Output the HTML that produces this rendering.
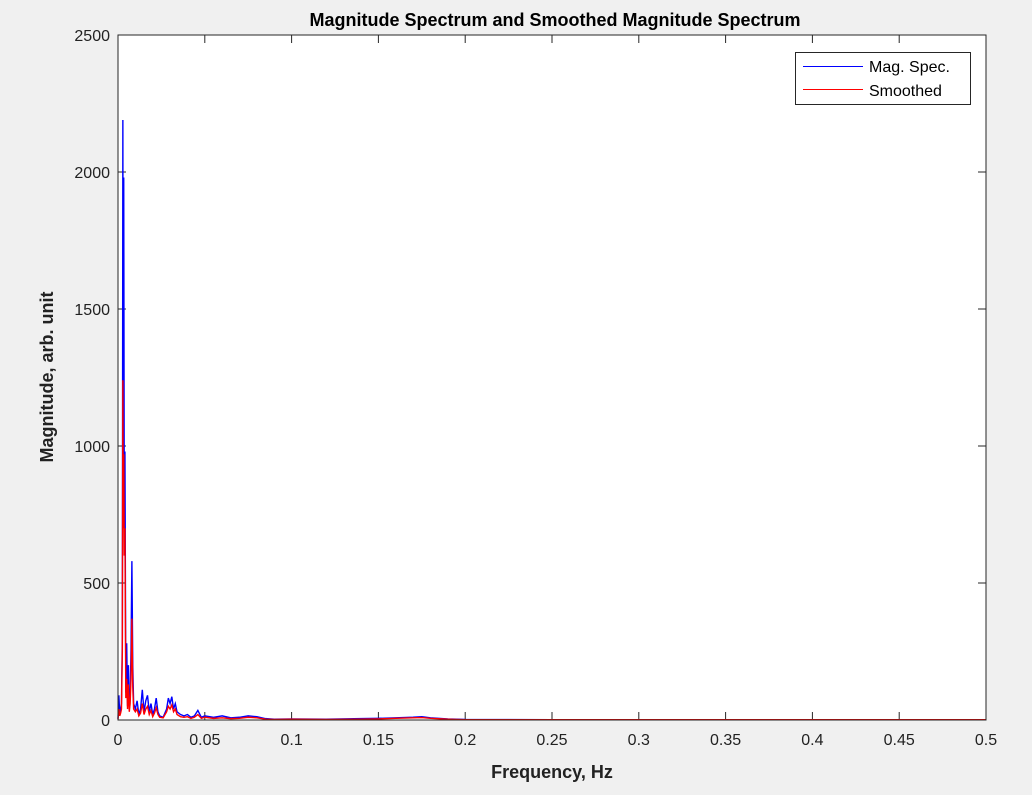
<!DOCTYPE html>
<html><head><meta charset="utf-8"><style>
body{margin:0;background:#f0f0f0;font-family:"Liberation Sans",sans-serif;}
svg text{font-family:"Liberation Sans",sans-serif;}
</style></head><body>
<svg id="chart" width="1032" height="790">
<rect x="118" y="35" width="868" height="685" fill="#fff"/>
<text x="555" y="26" text-anchor="middle" font-size="18" font-weight="bold" fill="#000">Magnitude Spectrum and Smoothed Magnitude Spectrum</text>
<text x="552" y="778" text-anchor="middle" font-size="18" font-weight="bold" fill="#222">Frequency, Hz</text>
<text transform="translate(53,377) rotate(-90)" text-anchor="middle" font-size="18" font-weight="bold" fill="#222">Magnitude, arb. unit</text>
<g id="ticks"></g>
<g id="series"></g>
<rect x="118" y="35" width="868" height="685" fill="none" stroke="#262626" stroke-width="1"/>
<g>
<rect x="795.5" y="52.5" width="175" height="52" fill="#fff" stroke="#262626"/>
<line x1="803" y1="66.5" x2="863" y2="66.5" stroke="#0000ff"/>
<text x="869" y="72" font-size="16" fill="#000">Mag. Spec.</text>
<line x1="803" y1="89.5" x2="863" y2="89.5" stroke="#ff0000"/>
<text x="869" y="96" font-size="16" fill="#000">Smoothed</text>
</g>
</svg>
<script>
const freqs=[0,0.0005,0.001,0.0015,0.002,0.0025,0.0028,0.003,0.0033,0.0036,0.004,0.0045,0.005,0.0055,0.006,0.0065,0.007,0.0075,0.008,0.0085,0.009,0.01,0.011,0.012,0.013,0.014,0.015,0.016,0.017,0.018,0.019,0.02,0.021,0.022,0.023,0.024,0.026,0.028,0.029,0.03,0.031,0.032,0.033,0.034,0.036,0.038,0.04,0.042,0.044,0.046,0.048,0.05,0.055,0.06,0.065,0.07,0.075,0.08,0.085,0.09,0.1,0.12,0.14,0.15,0.16,0.17,0.175,0.18,0.19,0.2,0.25,0.3,0.4,0.5];
const magValues=[5,90,20,40,60,300,2190,1000,1980,800,980,100,280,50,200,40,80,260,580,200,60,40,70,20,40,110,30,70,90,30,60,20,40,80,30,15,10,40,80,60,85,40,60,30,20,15,20,10,15,35,10,15,10,15,8,10,15,12,5,3,4,3,5,6,8,10,12,8,4,2,1,1,1,1];
const smoothValues=[3,40,15,25,40,250,1240,700,970,600,700,80,150,40,130,30,60,150,370,120,40,30,40,15,25,60,20,40,50,20,35,12,25,45,20,10,8,30,50,40,55,30,40,20,12,10,12,6,10,20,6,10,6,8,5,6,10,8,3,2,3,2,3,4,6,8,9,6,3,1,1,1,1,1];
const xTicks=[0,0.05,0.1,0.15,0.2,0.25,0.3,0.35,0.4,0.45,0.5];
const yTicks=[0,500,1000,1500,2000,2500];
const X=v=>118+v/0.5*868, Y=v=>720-v/2500*685;
const NS='http://www.w3.org/2000/svg';
const tg=document.getElementById('ticks'), sg=document.getElementById('series');
function mk(tag,attrs,parent){const e=document.createElementNS(NS,tag);for(const k in attrs)e.setAttribute(k,attrs[k]);parent.appendChild(e);return e;}
xTicks.forEach(t=>{const x=X(t);
 const l=mk('line',{x1:x,x2:x,y1:720,y2:712,stroke:'#262626'},tg);
 
 
 const l2=mk('line',{x1:x,x2:x,y1:35,y2:43,stroke:'#262626'},tg);
 
 
 const tx=mk('text',{x:x,y:745,'text-anchor':'middle','font-size':'16',fill:'#222'},tg);tx.textContent=t;
 
 });
yTicks.forEach(t=>{const y=Y(t);
 const l=mk('line',{x1:118,x2:126,y1:y,y2:y,stroke:'#262626'},tg);
 
 
 const l2=mk('line',{x1:978,x2:986,y1:y,y2:y,stroke:'#262626'},tg);
 
 
 const tx=mk('text',{x:110,y:y+6,'text-anchor':'end','font-size':'16',fill:'#222'},tg);tx.textContent=t;
 
 });
function line(vals,color,name){const d=freqs.map((f,i)=>(i?'L':'M')+X(f).toFixed(2)+','+Y(vals[i]).toFixed(2)).join('');
 const p=mk('path',{d:d,fill:'none',stroke:color,'stroke-width':'1.4'},sg);
 
 }
line(magValues,'#0000ff','mag-spectrum-line');
line(smoothValues,'#ff0000','smoothed-spectrum-line');
</script>
</body></html>
